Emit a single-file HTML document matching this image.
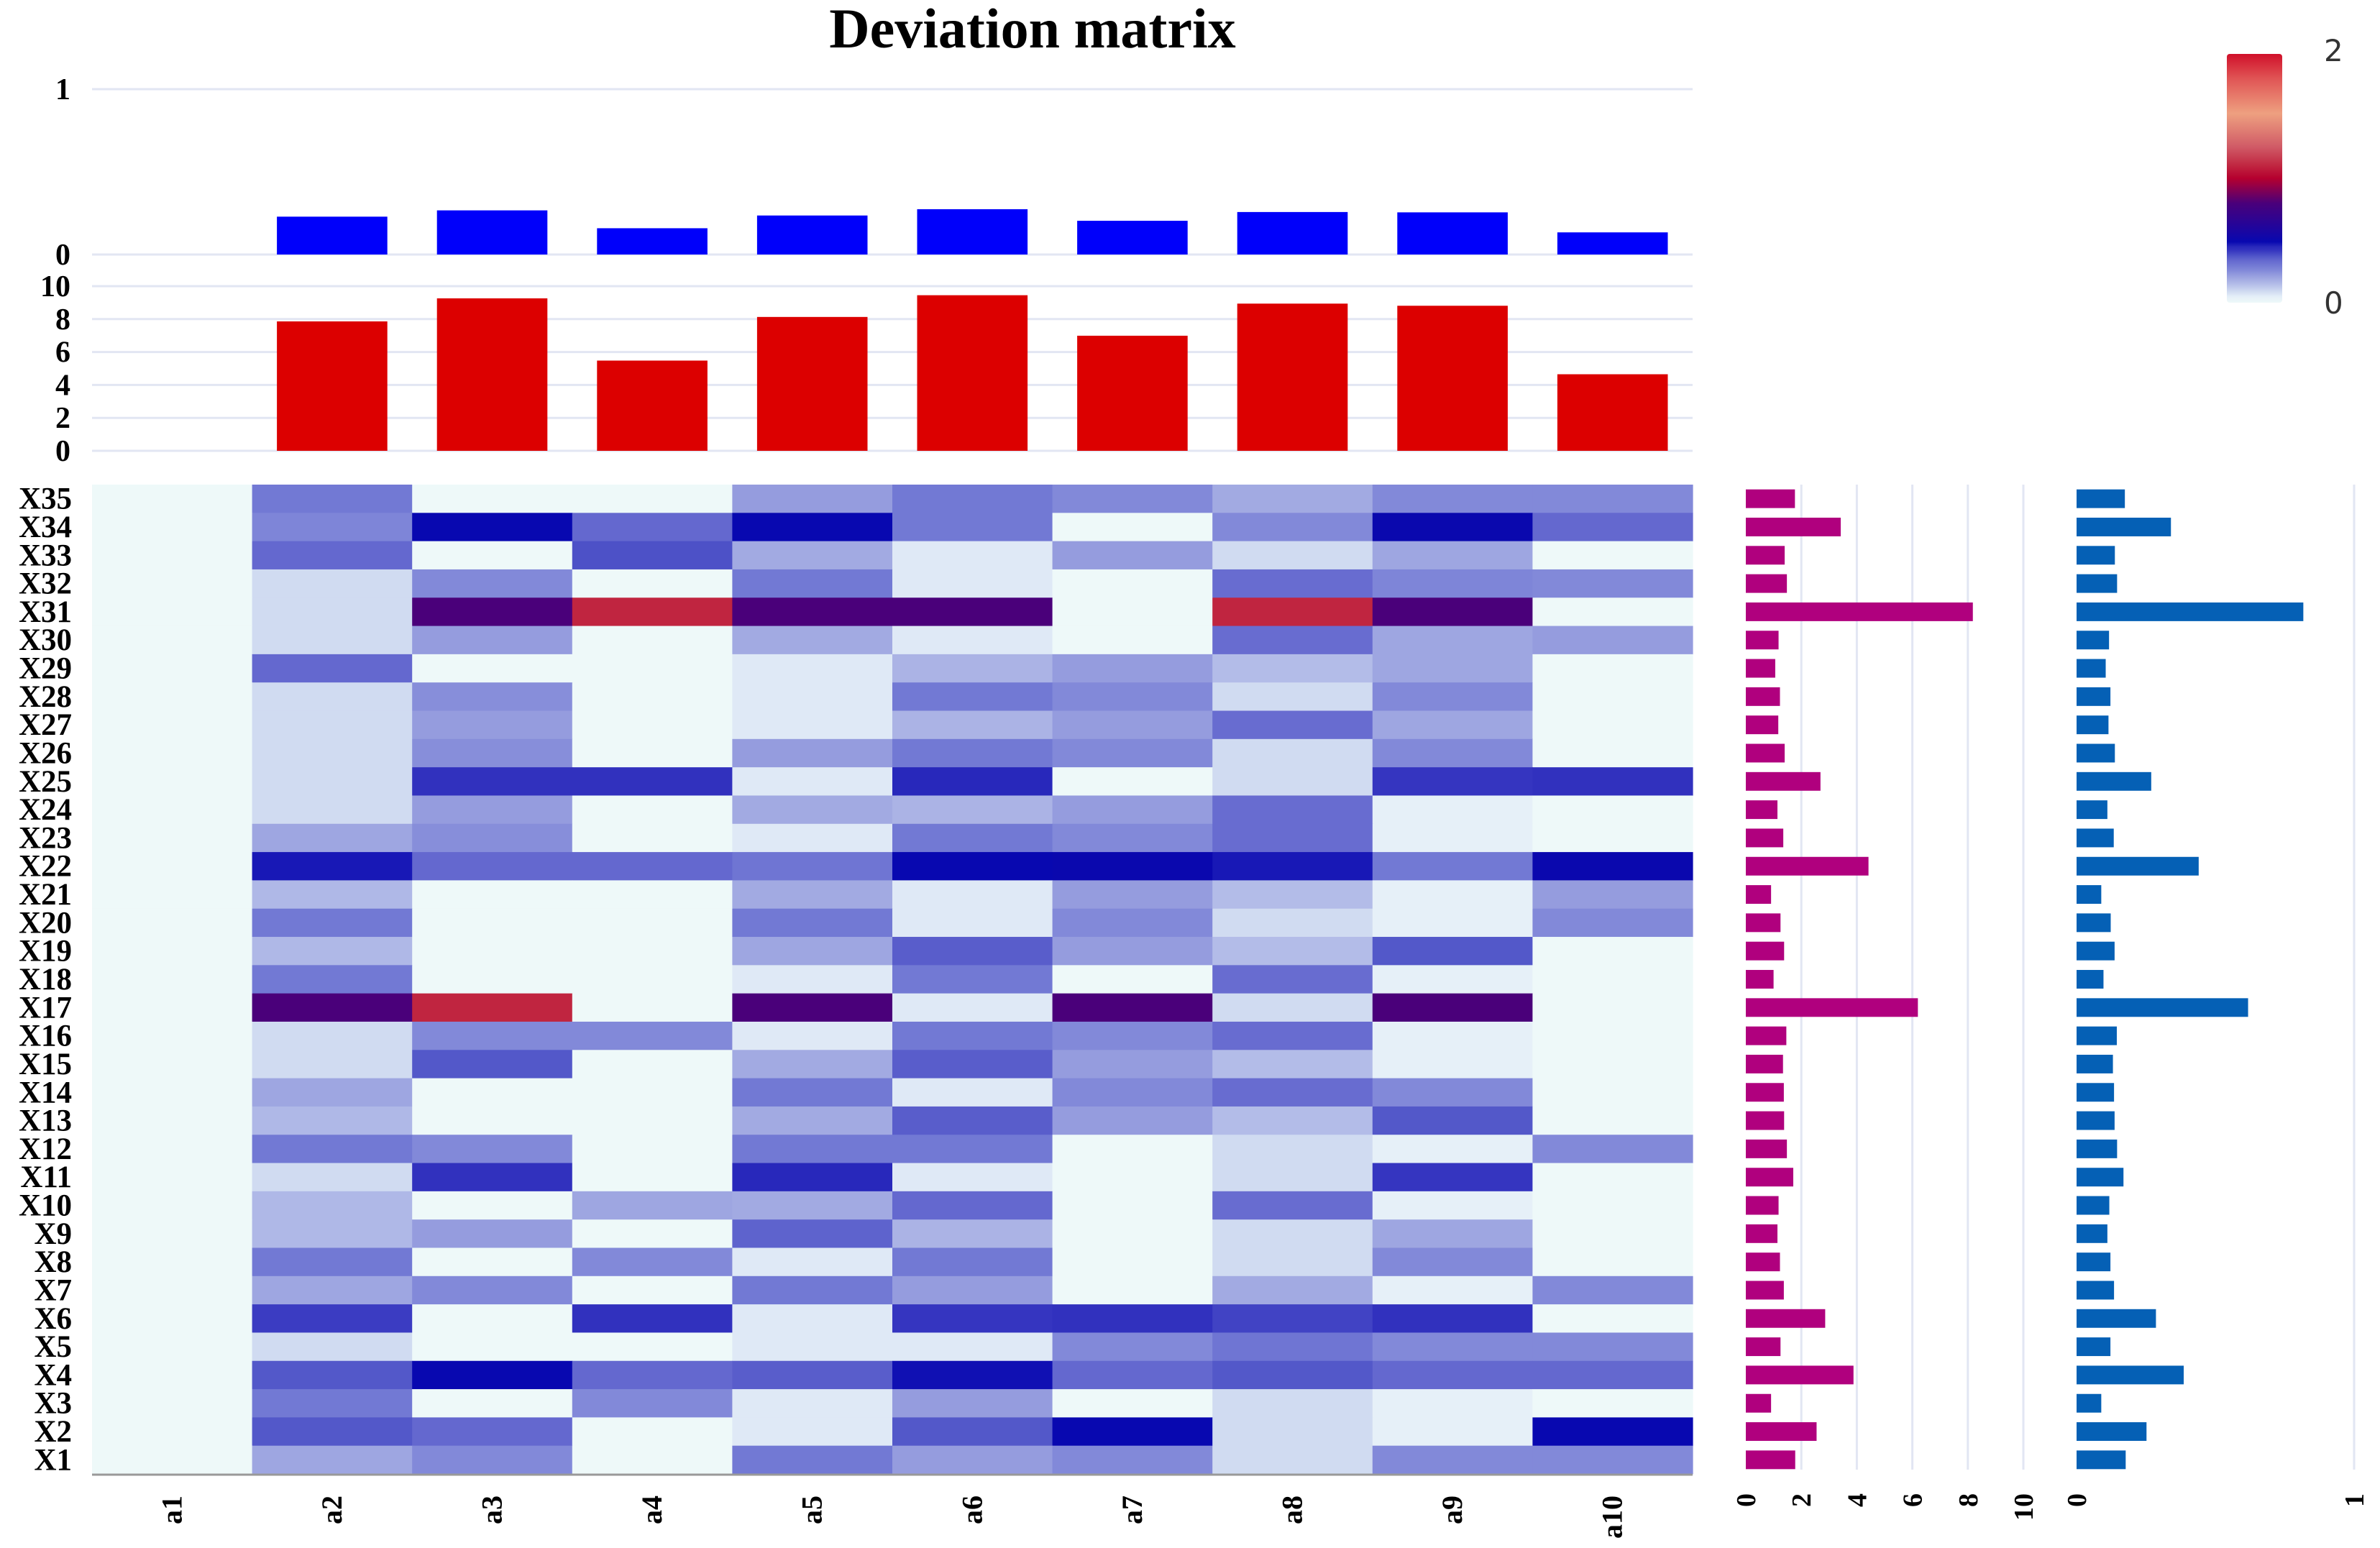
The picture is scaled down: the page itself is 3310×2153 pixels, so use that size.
<!DOCTYPE html>
<html><head><meta charset="utf-8"><style>
html,body{margin:0;padding:0;background:#fff;}
svg{display:block;}
text{font-family:"Liberation Serif",serif;font-weight:bold;fill:#000;}
</style></head><body>
<svg id="chart" width="3310" height="2153" viewBox="0 0 3310 2153" xmlns="http://www.w3.org/2000/svg">
<defs>
<linearGradient id="cbgrad" x1="0" y1="1" x2="0" y2="0"></linearGradient>
</defs>
<text x="1436" y="66" font-size="78" text-anchor="middle">Deviation matrix</text>
<g id="gTop"></g>
<g id="gSum"></g>
<g id="gHeat"></g>
<g id="gRowSum"></g>
<g id="gRowMean"></g>
<g id="gCb"></g>
</svg>
<script>
const columns = ["a1","a2","a3","a4","a5","a6","a7","a8","a9","a10"];
const rows = ["X35","X34","X33","X32","X31","X30","X29","X28","X27","X26","X25","X24","X23","X22","X21","X20","X19","X18","X17","X16","X15","X14","X13","X12","X11","X10","X9","X8","X7","X6","X5","X4","X3","X2","X1"];
const colMeans = [0,0.229,0.267,0.159,0.236,0.274,0.204,0.257,0.255,0.134];
const colSums = [0,7.86,9.26,5.48,8.13,9.45,6.99,8.94,8.81,4.65];
const rowSums = [1.77,3.42,1.4,1.48,8.18,1.18,1.06,1.23,1.17,1.4,2.69,1.14,1.35,4.42,0.91,1.25,1.38,1.0,6.2,1.46,1.34,1.37,1.38,1.48,1.71,1.18,1.14,1.23,1.37,2.86,1.25,3.88,0.91,2.55,1.78];
const rowMeans = [0.174,0.34,0.138,0.146,0.817,0.117,0.105,0.122,0.115,0.138,0.269,0.111,0.134,0.44,0.089,0.123,0.137,0.097,0.618,0.145,0.131,0.135,0.137,0.146,0.169,0.118,0.111,0.122,0.135,0.286,0.122,0.386,0.089,0.252,0.177];
const matrix = [
[0,0.3,0,0,0.22,0.3,0.26,0.19,0.26,0.26],
[0,0.27,0.49,0.34,0.49,0.3,0,0.26,0.5,0.34],
[0,0.34,0,0.38,0.19,0.06,0.22,0.09,0.2,0],
[0,0.09,0.26,0,0.3,0.06,0,0.33,0.27,0.26],
[0,0.09,0.8,1.1,0.8,0.8,0,1.1,0.8,0],
[0,0.09,0.22,0,0.19,0.06,0,0.33,0.2,0.22],
[0,0.34,0,0,0.06,0.17,0.22,0.15,0.2,0],
[0,0.09,0.25,0,0.06,0.3,0.26,0.09,0.26,0],
[0,0.09,0.22,0,0.06,0.17,0.22,0.33,0.2,0],
[0,0.09,0.25,0,0.22,0.3,0.26,0.09,0.26,0],
[0,0.09,0.43,0.43,0.06,0.45,0,0.09,0.42,0.43],
[0,0.09,0.22,0,0.19,0.17,0.22,0.33,0.04,0],
[0,0.2,0.25,0,0.06,0.3,0.26,0.33,0.04,0],
[0,0.47,0.34,0.34,0.31,0.49,0.5,0.47,0.3,0.5],
[0,0.16,0,0,0.19,0.06,0.22,0.15,0.04,0.22],
[0,0.3,0,0,0.3,0.06,0.26,0.09,0.04,0.26],
[0,0.16,0,0,0.2,0.36,0.22,0.15,0.37,0],
[0,0.3,0,0,0.06,0.3,0,0.33,0.04,0],
[0,0.8,1.1,0,0.8,0.06,0.8,0.09,0.8,0],
[0,0.09,0.26,0.26,0.06,0.3,0.26,0.33,0.04,0],
[0,0.09,0.37,0,0.19,0.36,0.22,0.15,0.04,0],
[0,0.2,0,0,0.3,0.06,0.26,0.33,0.26,0],
[0,0.16,0,0,0.19,0.36,0.22,0.15,0.37,0],
[0,0.3,0.26,0,0.3,0.3,0,0.09,0.04,0.26],
[0,0.09,0.43,0,0.45,0.06,0,0.09,0.42,0],
[0,0.16,0,0.2,0.19,0.34,0,0.33,0.04,0],
[0,0.16,0.22,0,0.35,0.17,0,0.09,0.2,0],
[0,0.3,0,0.26,0.06,0.3,0,0.09,0.26,0],
[0,0.2,0.26,0,0.3,0.22,0,0.19,0.04,0.26],
[0,0.41,0,0.43,0.06,0.42,0.43,0.4,0.43,0],
[0,0.09,0,0,0.06,0.06,0.26,0.31,0.26,0.26],
[0,0.37,0.49,0.34,0.36,0.48,0.34,0.37,0.34,0.34],
[0,0.3,0,0.26,0.06,0.22,0,0.09,0.04,0],
[0,0.37,0.34,0,0.06,0.37,0.49,0.09,0.04,0.49],
[0,0.2,0.26,0,0.3,0.22,0.26,0.09,0.26,0.26]
];
const sumTicks = [0,2,4,6,8,10];
const meanTicks = [0,1];
const rowSumTicks = [0,2,4,6,8,10];
const rowMeanTicks = [0,1];
const cbTicks = [0,2];

const scaleStops = [[0,"#eef9f9"],[0.05,"#e4eef8"],[0.09,"#d0dbf1"],[0.15,"#b3bce8"],[0.2,"#9ea6e1"],[0.26,"#8289d9"],[0.3,"#7279d4"],[0.34,"#6468cf"],[0.37,"#5358c9"],[0.42,"#3535c0"],[0.45,"#2828bb"],[0.49,"#0808b0"],[0.8,"#4a007a"],[1.0,"#b5002f"],[1.1,"#c02540"],[1.25,"#d05a66"],[1.52,"#eea080"],[1.8,"#e05555"],[2.0,"#d0102a"]];
function hx(c){return [parseInt(c.slice(1,3),16),parseInt(c.slice(3,5),16),parseInt(c.slice(5,7),16)];}
function colorOf(v){
  if(v<=scaleStops[0][0]) return scaleStops[0][1];
  for(let i=1;i<scaleStops.length;i++){
    if(v<=scaleStops[i][0]){
      const [a,ca]=scaleStops[i-1],[b,cb]=scaleStops[i];
      const t=(v-a)/(b-a),A=hx(ca),B=hx(cb);
      return "rgb("+A.map((x,k)=>Math.round(x+(B[k]-x)*t)).join(",")+")";
    }
  }
  return scaleStops[scaleStops.length-1][1];
}
const NS="http://www.w3.org/2000/svg";
function mk(tag,attrs,parent){const e=document.createElementNS(NS,tag);for(const k in attrs)e.setAttribute(k,attrs[k]);parent.appendChild(e);return e;}

const HX0=128,HX1=2354,HY0=674,HY1=2050;
const colW=(HX1-HX0)/columns.length, rowH=(HY1-HY0)/rows.length;
const xCol=i=>HX0+colW*i;
const yRow=j=>HY0+rowH*j;
const yMean=v=>354-(354-124)*v;
const ySum=v=>627-(627-398)*v/10;
const xRowSum=v=>2428+38.6*v;
const xRowMean=v=>2888+386*v;
const GRID="#e2e6f3";

const gTop=document.getElementById("gTop");
meanTicks.forEach(t=>{
  const l=mk("line",{x1:HX0,x2:HX1,y1:yMean(t),y2:yMean(t),stroke:GRID,"stroke-width":3},gTop);
  
  
  const tx=mk("text",{x:98,y:yMean(t)+14,"font-size":42,"text-anchor":"end"},gTop);tx.textContent=t;
  
  
});
colMeans.forEach((v,i)=>{
  if(v<=0) return;
  const bw=colW*0.69;
  const r=mk("rect",{x:xCol(i)+(colW-bw)/2,y:yMean(v),width:bw,height:yMean(0)-yMean(v),fill:"#0000fa"},gTop);
  
  
});
const gSum=document.getElementById("gSum");
sumTicks.forEach(t=>{
  const l=mk("line",{x1:HX0,x2:HX1,y1:ySum(t),y2:ySum(t),stroke:GRID,"stroke-width":3},gSum);
  
  
  const tx=mk("text",{x:98,y:ySum(t)+14,"font-size":42,"text-anchor":"end"},gSum);tx.textContent=t;
  
  
});
colSums.forEach((v,i)=>{
  if(v<=0) return;
  const bw=colW*0.69;
  const r=mk("rect",{x:xCol(i)+(colW-bw)/2,y:ySum(v),width:bw,height:ySum(0)-ySum(v),fill:"#dc0000"},gSum);
  
  
});
const gHeat=document.getElementById("gHeat");
matrix.forEach((row,j)=>row.forEach((v,i)=>{
  const r=mk("rect",{x:xCol(i),y:yRow(j),width:colW+0.6,height:rowH+0.6,fill:colorOf(v)},gHeat);
  
  
}));
const ax=mk("line",{x1:HX0,x2:HX1,y1:HY1+1,y2:HY1+1,stroke:"#999","stroke-width":3},gHeat);


rows.forEach((r,j)=>{
  const tx=mk("text",{x:100,y:yRow(j)+rowH/2+14,"font-size":43,"text-anchor":"end"},gHeat);tx.textContent=r;
  
  
});
columns.forEach((c,i)=>{
  const cx=xCol(i)+colW/2, cy=2080;
  const tx=mk("text",{x:cx,y:cy,"font-size":40,"text-anchor":"end",transform:"rotate(-90 "+cx+" "+cy+") translate(0 13)"},gHeat);tx.textContent=c;
  
  
});
const gRS=document.getElementById("gRowSum");
rowSumTicks.forEach(t=>{
  if(t>0){const l=mk("line",{x1:xRowSum(t),x2:xRowSum(t),y1:HY0,y2:HY1-6,stroke:GRID,"stroke-width":3},gRS);
  
  }
  const cx=xRowSum(t),cy=2077;
  const tx=mk("text",{x:cx,y:cy,"font-size":38,"text-anchor":"end",transform:"rotate(-90 "+cx+" "+cy+") translate(0 13)"},gRS);tx.textContent=t;
  
  
});
rowSums.forEach((v,j)=>{
  const bh=rowH*0.66;
  const r=mk("rect",{x:xRowSum(0),y:yRow(j)+(rowH-bh)/2,width:xRowSum(v)-xRowSum(0),height:bh,fill:"#b0007e"},gRS);
  
  
});
const gRM=document.getElementById("gRowMean");
rowMeanTicks.forEach(t=>{
  if(t>0){const l=mk("line",{x1:xRowMean(t),x2:xRowMean(t),y1:HY0,y2:HY1-6,stroke:GRID,"stroke-width":3},gRM);
  
  }
  const cx=xRowMean(t),cy=2077;
  const tx=mk("text",{x:cx,y:cy,"font-size":38,"text-anchor":"end",transform:"rotate(-90 "+cx+" "+cy+") translate(0 13)"},gRM);tx.textContent=t;
  
  
});
rowMeans.forEach((v,j)=>{
  const bh=rowH*0.66;
  const r=mk("rect",{x:xRowMean(0),y:yRow(j)+(rowH-bh)/2,width:xRowMean(v)-xRowMean(0),height:bh,fill:"#0560b5"},gRM);
  
  
});
const grad=document.getElementById("cbgrad");
scaleStops.forEach(([v,c])=>{mk("stop",{offset:(v/2*100)+"%","stop-color":c},grad);});
const gCb=document.getElementById("gCb");
const cbY0=421,cbY1=75;
const cb=mk("rect",{x:3097,y:cbY1,width:77,height:cbY0-cbY1,rx:4,fill:"url(#cbgrad)"},gCb);


cbTicks.forEach(t=>{
  const y=cbY0-(cbY0-cbY1)*t/2;
  const tx=mk("text",{x:3232,y:y+(t===0?15:10),"font-size":42,style:"font-family:'DejaVu Sans',sans-serif;font-weight:normal;fill:#333"},gCb);tx.textContent=t;
  
  
});
</script>
</body></html>
